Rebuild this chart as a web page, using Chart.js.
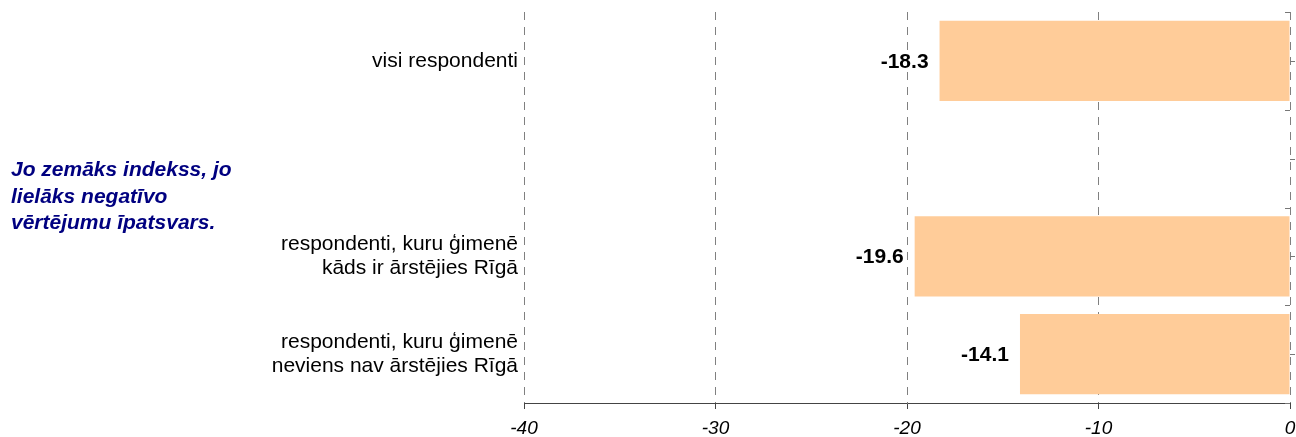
<!DOCTYPE html>
<html lang="lv">
<head>
  <meta charset="UTF-8" />
  <title>Indekss</title>
  <script src="https://cdn.jsdelivr.net/npm/chart.js"></script>
  <style>
    body {
      margin: 0;
      background: #fff;
      font-family: Arial, "Liberation Sans", sans-serif;
    }
    .wrap {
      position: relative;
      width: 1296px;
      height: 437px;
    }
    .note {
      position: absolute;
      left: 11px;
      top: 156px;
      width: 245px;
      color: #000080;
      font-weight: bold;
      font-style: italic;
      font-size: 21px;
      line-height: 26.5px;
    }
  </style>
</head>
<body>
  <div class="wrap">
    <canvas id="chart" width="1296" height="437"></canvas>
    <div class="note">Jo zemāks indekss, jo lielāks negatīvo vērtējumu īpatsvars.</div>
  </div>

  <script>
    const categories = [
      'visi respondenti',
      '',
      ['respondenti, kuru ģimenē', 'kāds ir ārstējies Rīgā'],
      ['respondenti, kuru ģimenē', 'neviens nav ārstējies Rīgā']
    ];
    const indexValues = [-18.3, null, -19.6, -14.1];
    const xTicks = [-40, -30, -20, -10, 0];

    const FONT = 'Arial, "Liberation Sans", sans-serif';

    // value labels to the left of each bar end
    const valueLabels = {
      id: 'valueLabels',
      afterDatasetsDraw(chart) {
        const ctx = chart.ctx;
        const meta = chart.getDatasetMeta(0);
        ctx.save();
        ctx.font = 'bold 21px ' + FONT;
        ctx.fillStyle = '#000';
        ctx.textAlign = 'right';
        ctx.textBaseline = 'middle';
        meta.data.forEach((bar, i) => {
          const v = indexValues[i];
          if (v === null) return;
          ctx.fillText(v.toFixed(1), bar.x - 11, bar.y + 1);
        });
        ctx.restore();
      }
    };

    // small category tick marks along the zero line
    const zeroTicks = {
      id: 'zeroTicks',
      afterDraw(chart) {
        const ctx = chart.ctx;
        const y = chart.scales.y;
        const x0 = chart.scales.x.getPixelForValue(0);
        const half = (y.getPixelForValue(1) - y.getPixelForValue(0)) / 2;
        ctx.save();
        ctx.strokeStyle = '#777';
        ctx.lineWidth = 1;
        ctx.beginPath();
        categories.forEach((c, i) => {
          const cy = Math.round(y.getPixelForValue(i)) + 0.5;
          ctx.moveTo(x0, cy); ctx.lineTo(x0 + 5, cy);
          const by = Math.round(y.getPixelForValue(i) - half) + 0.5;
          ctx.moveTo(x0, by); ctx.lineTo(x0 - 5, by);
        });
        const last = Math.round(y.getPixelForValue(categories.length - 1) + half) + 0.5;
        ctx.moveTo(x0, last); ctx.lineTo(x0 - 5, last);
        ctx.stroke();
        ctx.restore();
      }
    };

    new Chart(document.getElementById('chart'), {
      type: 'bar',
      data: {
        labels: categories,
        datasets: [{
          data: indexValues,
          backgroundColor: '#ffcc99',
          borderWidth: 0,
          categoryPercentage: 0.82,
          barPercentage: 1
        }]
      },
      options: {
        indexAxis: 'y',
        responsive: false,
        animation: false,
        layout: { padding: { top: 12, right: 0, bottom: 0, left: 0 } },
        plugins: {
          legend: { display: false },
          tooltip: { enabled: false }
        },
        scales: {
          x: {
            min: -40,
            max: 0,
            afterBuildTicks(scale) {
              scale.ticks = xTicks.map(v => ({ value: v }));
            },
            afterFit(scale) {
              scale.height = 34;
              scale.paddingRight = 6;
              scale.paddingLeft = 0;
            },
            border: { display: true, color: '#444', width: 1, dash: [8, 7] },
            grid: {
              color: '#808080',
              lineWidth: 1,
              tickLength: 6,
              tickColor: '#444',
              tickBorderDash: []
            },
            ticks: {
              color: '#000',
              padding: 8,
              font: { family: FONT, size: 19, style: 'italic' }
            }
          },
          y: {
            position: 'left',
            afterFit(scale) {
              scale.width = 524;
              scale.paddingTop = 0;
              scale.paddingBottom = 0;
            },
            border: { display: false },
            grid: { display: false, drawTicks: false },
            ticks: {
              color: '#000',
              padding: 6,
              font: { family: FONT, size: 21, lineHeight: 1.14 }
            }
          }
        }
      },
      plugins: [valueLabels, zeroTicks]
    });
  </script>
</body>
</html>
